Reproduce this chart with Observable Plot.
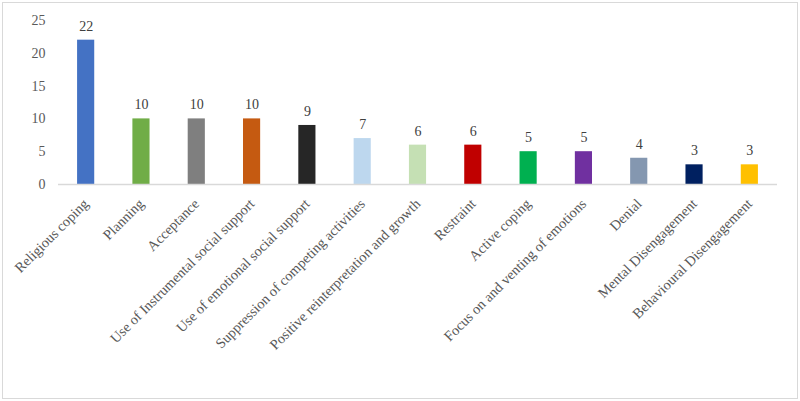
<!DOCTYPE html>
<html>
<head>
<meta charset="utf-8">
<script src="https://cdn.jsdelivr.net/npm/d3@7"></script>
<script src="https://cdn.jsdelivr.net/npm/@observablehq/plot@0.6"></script>
<style>
  html, body { margin: 0; padding: 0; background: #fff; }
  #chart svg { display: block; outline: 1px solid #d9d9d9; outline-offset: -3px; }
</style>
</head>
<body>
<div id="chart"></div>
<script>
// Coping strategies and how many respondents reported each
const strategies = [
  "Religious coping",
  "Planning",
  "Acceptance",
  "Use of Instrumental social support",
  "Use of emotional social support",
  "Suppression of competing activities",
  "Positive reinterpretation and growth",
  "Restraint",
  "Active coping",
  "Focus on and venting of emotions",
  "Denial",
  "Mental Disengagement",
  "Behavioural Disengagement"
];
const counts = [22, 10, 10, 10, 9, 7, 6, 6, 5, 5, 4, 3, 3];
const barColors = [
  "#4472c4", "#70ad47", "#7f7f7f", "#c55a11", "#262626", "#bdd7ee", "#c5e0b4",
  "#c00000", "#00b050", "#7030a0", "#8497b0", "#002060", "#ffc000"
];
const yTicks = [0, 5, 10, 15, 20, 25];

const data = strategies.map((s, i) => ({strategy: s, count: counts[i], color: barColors[i]}));

const serif = "'Liberation Serif', 'Times New Roman', serif";

const chart = Plot.plot({
  width: 800,
  height: 401,
  marginTop: 20,
  marginBottom: 217,
  marginLeft: 58,
  marginRight: 23,
  style: {fontFamily: serif, fontSize: "14px", color: "#595959", background: "#fff"},
  x: {domain: strategies, paddingInner: 0.69, paddingOuter: 0.345, round: false, label: null},
  y: {domain: [0, 25], label: null},
  marks: [
    Plot.axisY({ticks: yTicks, tickSize: 0, tickPadding: 13, fontSize: 14, label: null}),
    Plot.axisX({tickSize: 0, tickRotate: -45, tickPadding: 17, fontSize: 14.3, label: null}),
    Plot.barY(data, {x: "strategy", y: "count", fill: "color"}),
    Plot.ruleY([0], {stroke: "#d9d9d9", strokeWidth: 1.5}),
    Plot.text(data, {x: "strategy", y: "count", text: d => String(d.count), dy: -14, fill: "#404040", fontSize: 14})
  ]
});
document.getElementById("chart").append(chart);
</script>
</body>
</html>
